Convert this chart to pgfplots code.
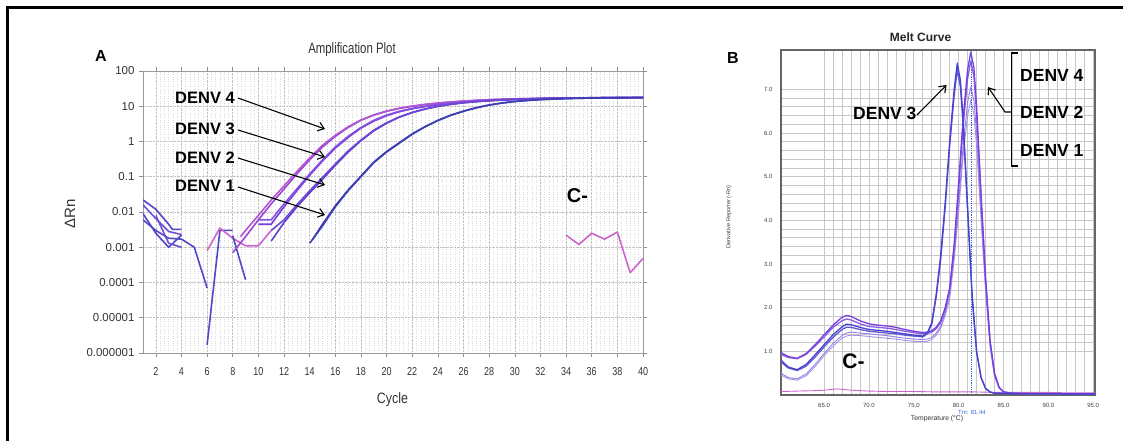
\documentclass[border=0pt]{standalone}
\usepackage{fontspec}
\setmainfont{Liberation Sans}
\usepackage{pgfplots}
\pgfplotsset{compat=1.18}
\usetikzlibrary{arrows.meta}

\definecolor{dfour}{RGB}{155,70,215}
\definecolor{dfourb}{RGB}{178,85,210}
\definecolor{dthree}{RGB}{120,62,218}
\definecolor{dthreeb}{RGB}{135,80,225}
\definecolor{dtwo}{RGB}{95,62,205}
\definecolor{dtwob}{RGB}{110,70,212}
\definecolor{done}{RGB}{70,68,190}
\definecolor{doneb}{RGB}{62,62,178}
\definecolor{noiseA}{RGB}{80,72,200}
\definecolor{noiseB}{RGB}{110,80,215}
\definecolor{cneg}{RGB}{205,100,205}
\definecolor{mA}{RGB}{118,64,222}
\definecolor{mB}{RGB}{138,92,228}
\definecolor{mC}{RGB}{72,66,205}
\definecolor{mD}{RGB}{96,88,215}
\definecolor{mE}{RGB}{150,128,230}
\definecolor{mF}{RGB}{165,145,232}
\definecolor{tmblue}{RGB}{50,110,220}

\begin{document}
\begin{tikzpicture}
\useasboundingbox (0pt,0pt) rectangle (1123pt,-441pt);

% outer frame (top and left edges)
\draw[line width=3pt] (7.5pt,-441pt) -- (7.5pt,-7.5pt) -- (1123pt,-7.5pt);

%-------------------- A: amplification plot --------------------
\begin{axis}[
  at={(143pt,-353pt)}, anchor=south west,
  scale only axis, width=500pt, height=282pt,
  xmin=1, xmax=40,
  ymode=log, log basis y=10, ymin=1e-6, ymax=100,
  xtick={2,4,...,40}, minor x tick num=5,
  ytick={1e-6,1e-5,1e-4,1e-3,1e-2,1e-1,1,10,100},
  yticklabels={0.000001,0.00001,0.0001,0.001,0.01,0.1,1,10,100},
  grid=both,
  major grid style={densely dotted, draw=black!24, line width=0.6pt},
  minor grid style={dotted, draw=black!15, line width=0.5pt},
  axis line style={draw=black!40, line width=0.8pt},
  tick style={draw=black!45, line width=0.6pt},
  tick align=outside, major tick length=4pt, minor tick length=0pt,
  /pgf/number format/assume math mode=true,
  ticklabel style={font=\fontsize{11.5}{11.5}\selectfont, text=black!80},
  xticklabel style={xscale=0.78, yshift=-7pt},
  yticklabel style={xshift=-1pt},
  clip=true,
  every axis plot/.append style={line width=1.6pt, line join=round, mark=none},
]
% early-cycle background noise
\addplot[noiseA] coordinates {(1,0.022) (2,0.012) (3,0.0045) (3.3,0.0032) (4,0.0032)};
\addplot[noiseB] coordinates {(1,0.016) (2,0.0065) (3,0.0028) (4,0.0023)};
\addplot[noiseA] coordinates {(1,0.009) (2,0.0025) (3,0.001) (4,0.0022)};
\addplot[noiseA] coordinates {(1,0.006) (2,0.003) (3,0.0018) (4,0.0017) (5,0.001) (6,0.00007)};
\addplot[noiseB] coordinates {(2,0.008) (3,0.0013) (4,0.001)};
\addplot[noiseA] coordinates {(6,0.0000017) (7,0.003) (8,0.003)};
\addplot[cneg] coordinates {(6,0.0008) (7,0.0035) (8,0.0018) (9,0.0011) (10,0.0011) (11,0.003)};
\addplot[noiseA] coordinates {(8,0.0021) (9,0.00012)};
% DENV 4
\addplot[dfour] coordinates {(8,0.0007) (9,0.002) (10,0.006) (11,0.017) (12,0.045) (13,0.12) (14,0.3) (15,0.7) (16,1.4) (17,2.5) (18,4.0) (19,5.6) (20,7.2) (21,8.7) (22,10.0) (23,11.2) (24,12.3) (25,13.2) (26,14.0) (27,14.7) (28,15.3) (29,15.8) (30,16.2) (32,16.8) (34,17.2) (36,17.4) (38,17.6) (40,17.7)};
\addplot[dfourb] coordinates {(8.6,0.002) (9,0.003) (10,0.008) (11,0.022) (12,0.055) (13,0.14) (14,0.34) (15,0.78) (16,1.5) (17,2.6) (18,4.1) (19,5.7) (20,7.3) (21,8.8) (22,10.1) (23,11.3) (24,12.3) (25,13.2) (26,14.0) (27,14.7) (28,15.3) (29,15.8) (30,16.2) (32,16.8) (34,17.2) (36,17.4) (38,17.6) (40,17.7)};
% DENV 3
\addplot[dthree] coordinates {(10,0.0045) (11,0.0045) (11.5,0.008) (12,0.014) (13,0.04) (14,0.11) (15,0.28) (16,0.65) (17,1.3) (18,2.4) (19,3.8) (20,5.4) (21,7.0) (22,8.5) (23,9.8) (24,11.0) (25,12.1) (26,13.0) (27,13.8) (28,14.6) (29,15.2) (30,15.7) (32,16.4) (34,16.9) (36,17.3) (38,17.5) (40,17.6)};
\addplot[dthreeb] coordinates {(10,0.006) (11,0.006) (12,0.017) (13,0.045) (14,0.12) (15,0.3) (16,0.7) (17,1.4) (18,2.5) (19,4.0) (20,5.6) (21,7.2) (22,8.7) (23,10.0) (24,11.2) (25,12.3) (26,13.2) (27,14.0) (28,14.7) (29,15.3) (30,15.8) (32,16.5) (34,17.0) (36,17.3) (38,17.5) (40,17.6)};
% DENV 2
\addplot[dtwo] coordinates {(11,0.0015) (12,0.005) (13,0.014) (14,0.035) (15,0.085) (16,0.21) (17,0.5) (18,1.05) (19,2.0) (20,3.3) (21,4.9) (22,6.6) (23,8.3) (24,9.9) (25,11.3) (26,12.5) (27,13.5) (28,14.3) (29,15.0) (30,15.6) (32,16.4) (34,17.0) (36,17.3) (38,17.5) (40,17.6)};
\addplot[dtwob] coordinates {(11,0.003) (12,0.006) (13,0.016) (14,0.04) (15,0.095) (16,0.23) (17,0.54) (18,1.1) (19,2.1) (20,3.4) (21,5.0) (22,6.7) (23,8.4) (24,10.0) (25,11.4) (26,12.6) (27,13.6) (28,14.4) (29,15.1) (30,15.6) (32,16.4) (34,17.0) (36,17.3) (38,17.5) (40,17.6)};
% DENV 1
\addplot[done] coordinates {(14,0.0013) (15,0.004) (16,0.014) (17,0.04) (18,0.1) (19,0.25) (20,0.5) (21,0.9) (22,1.6) (23,2.6) (24,3.9) (25,5.5) (26,7.2) (27,9.0) (28,10.8) (29,12.3) (30,13.6) (31,14.6) (32,15.4) (34,16.5) (36,17.1) (38,17.4) (40,17.6)};
\addplot[doneb] coordinates {(14.2,0.0016) (15,0.0045) (16,0.015) (17,0.042) (18,0.105) (19,0.26) (20,0.52) (21,0.93) (22,1.65) (23,2.65) (24,4.0) (25,5.6) (26,7.3) (27,9.1) (28,10.9) (29,12.4) (30,13.7) (31,14.7) (32,15.5) (34,16.5) (36,17.1) (38,17.4) (40,17.6)};
% negative control
\addplot[cneg] coordinates {(34,0.0022) (35,0.0012) (36,0.0025) (37,0.0017) (38,0.0027) (39,0.00019) (40,0.00048)};
\end{axis}

\node[font=\fontsize{16}{16}\selectfont\bfseries] at (101pt,-56pt) {A};
\node[font=\fontsize{15}{15}\selectfont, text=black!80, xscale=0.76] at (352pt,-50pt) {Amplification Plot};
\node[font=\fontsize{15}{15}\selectfont, text=black!80, xscale=0.83] at (392.5pt,-400pt) {Cycle};
\node[font=\fontsize{15}{15}\selectfont, text=black!80, rotate=90] at (70pt,-214pt) {ΔRn};

\begin{scope}[font=\fontsize{16.5}{16.5}\selectfont\bfseries]
\node[anchor=west, inner sep=0pt] at (175pt,-97.5pt) {DENV 4};
\node[anchor=west, inner sep=0pt] at (175pt,-129pt) {DENV 3};
\node[anchor=west, inner sep=0pt] at (175pt,-157.5pt) {DENV 2};
\node[anchor=west, inner sep=0pt] at (175pt,-186pt) {DENV 1};
\end{scope}
\begin{scope}[line width=1.1pt, -{Straight Barb[length=6pt,width=9pt]}]
\draw (238pt,-98pt) -- (325pt,-129pt);
\draw (238pt,-130pt) -- (325pt,-157pt);
\draw (238pt,-158pt) -- (325pt,-185pt);
\draw (238pt,-187pt) -- (325pt,-215pt);
\end{scope}
\node[font=\fontsize{20}{20}\selectfont\bfseries] at (577.5pt,-195.5pt) {C-};

%-------------------- B: melt curve --------------------
\begin{axis}[
  at={(781pt,-395pt)}, anchor=south west,
  scale only axis, width=314pt, height=345pt,
  xmin=60.2, xmax=95.2, ymin=0, ymax=7.9,
  xtick={65,70,...,95}, ytick={1,2,...,7},
  minor x tick num=4, minor y tick num=4,
  grid=both,
  major grid style={draw=black!22, line width=0.6pt},
  minor grid style={draw=black!22, line width=0.6pt},
  axis line style={draw=black!60, line width=1.3pt},
  major tick length=0pt, minor tick length=0pt,
  /pgf/number format/.cd, fixed, fixed zerofill, precision=1, assume math mode=true,
  /pgfplots/.cd,
  ticklabel style={font=\fontsize{6}{6}\selectfont, text=black!75},
  xticklabel style={yshift=-5pt},
  yticklabel style={xshift=-5pt},
  clip=true,
  every axis plot/.append style={line width=1.3pt, line join=round, mark=none},
]
% negative control
\addplot[cneg, line width=0.9pt] coordinates {(60.2,0.08) (62,0.09) (64,0.1) (65,0.11) (66,0.13) (66.5,0.14) (67,0.13) (68,0.11) (70,0.09) (72,0.08) (75,0.08) (78,0.07) (80,0.07) (82,0.07) (84,0.06) (86,0.06) (88,0.06) (90,0.06) (92,0.05) (95.2,0.05)};
% peaks near 81.4 (DENV 4, 2, 1)
\addplot[mF, line width=0.9pt] coordinates {(60.2,0.46) (61,0.37) (62,0.34) (63,0.44) (64,0.65) (65,0.9) (66,1.12) (67,1.3) (67.5,1.35) (68,1.37) (69,1.36) (70,1.34) (71,1.32) (72,1.3) (73,1.28) (74,1.25) (75,1.23) (76,1.22) (76.5,1.23) (77,1.27) (77.5,1.37) (78,1.53) (78.5,1.82) (79,2.2) (79.5,3.1) (80,4.2) (80.5,5.5) (81,6.4) (81.35,6.75) (81.7,6.45) (82,5.7) (82.5,4.0) (83,2.4) (83.5,1.1) (84,0.43) (84.5,0.16) (85,0.07) (86,0.04) (88,0.03) (90,0.03) (92,0.025) (95.2,0.02)};
\addplot[mE, line width=0.9pt] coordinates {(60.2,0.5) (61,0.4) (62,0.37) (63,0.48) (64,0.7) (65,0.95) (66,1.18) (67,1.36) (67.5,1.42) (68,1.44) (69,1.42) (70,1.4) (71,1.38) (72,1.36) (73,1.33) (74,1.3) (75,1.28) (76,1.27) (76.5,1.28) (77,1.32) (77.5,1.42) (78,1.58) (78.5,1.88) (79,2.3) (79.5,3.2) (80,4.4) (80.5,5.7) (81,6.7) (81.35,7.05) (81.7,6.75) (82,6.0) (82.5,4.2) (83,2.5) (83.5,1.15) (84,0.45) (84.5,0.17) (85,0.07) (86,0.04) (88,0.03) (90,0.03) (92,0.025) (95.2,0.02)};
\addplot[mB] coordinates {(60.2,0.93) (61,0.86) (62,0.83) (63,0.93) (64,1.12) (65,1.33) (66,1.55) (67,1.7) (67.5,1.74) (68,1.72) (69,1.63) (70,1.57) (71,1.55) (72,1.53) (73,1.5) (74,1.46) (75,1.43) (76,1.4) (76.5,1.41) (77,1.44) (77.5,1.52) (78,1.67) (78.5,1.95) (79,2.4) (79.5,3.35) (80,4.7) (80.5,6.15) (81,7.25) (81.35,7.65) (81.7,7.3) (82,6.45) (82.5,4.5) (83,2.65) (83.5,1.22) (84,0.48) (84.5,0.18) (85,0.07) (86,0.04) (88,0.03) (90,0.03) (92,0.025) (95.2,0.02)};
\addplot[mA] coordinates {(60.2,0.97) (61,0.88) (62,0.84) (63,0.95) (64,1.15) (65,1.38) (66,1.6) (67,1.78) (67.5,1.82) (68,1.8) (69,1.7) (70,1.63) (71,1.6) (72,1.58) (73,1.55) (74,1.5) (75,1.46) (76,1.43) (76.5,1.44) (77,1.47) (77.5,1.55) (78,1.7) (78.5,2.0) (79,2.45) (79.5,3.45) (80,4.85) (80.5,6.35) (81,7.45) (81.35,7.85) (81.7,7.5) (82,6.6) (82.5,4.6) (83,2.7) (83.5,1.25) (84,0.5) (84.5,0.18) (85,0.07) (86,0.04) (88,0.03) (90,0.03) (92,0.025) (95.2,0.02)};
% peaks near 79.9 (DENV 3)
\addplot[mD] coordinates {(60.2,0.76) (61,0.62) (62,0.56) (63,0.66) (64,0.87) (65,1.1) (66,1.32) (67,1.5) (67.5,1.55) (68,1.55) (69,1.5) (70,1.46) (71,1.44) (72,1.42) (73,1.4) (74,1.37) (75,1.35) (76,1.33) (76.5,1.4) (77,1.62) (77.5,2.25) (78,3.1) (78.5,4.3) (79,5.7) (79.5,6.85) (79.85,7.45) (80.2,7.05) (80.5,6.2) (81,4.2) (81.5,2.25) (82,0.98) (82.5,0.4) (83,0.15) (83.5,0.07) (84,0.04) (86,0.03) (88,0.03) (90,0.03) (92,0.025) (95.2,0.02)};
\addplot[mC] coordinates {(60.2,0.8) (61,0.64) (62,0.58) (63,0.7) (64,0.92) (65,1.15) (66,1.38) (67,1.56) (67.5,1.62) (68,1.61) (69,1.55) (70,1.5) (71,1.48) (72,1.46) (73,1.43) (74,1.4) (75,1.37) (76,1.35) (76.5,1.42) (77,1.65) (77.5,2.3) (78,3.2) (78.5,4.4) (79,5.8) (79.5,7.0) (79.85,7.6) (80.2,7.2) (80.5,6.3) (81,4.3) (81.5,2.3) (82,1.0) (82.5,0.4) (83,0.15) (83.5,0.07) (84,0.04) (86,0.03) (88,0.03) (90,0.03) (92,0.025) (95.2,0.02)};
% melting temperature marker
\addplot[tmblue, densely dotted, line width=0.9pt] coordinates {(81.44,0) (81.44,7.9)};
\end{axis}

\node[font=\fontsize{16}{16}\selectfont\bfseries] at (733pt,-58pt) {B};
\node[font=\fontsize{12}{12}\selectfont\bfseries, text=black!85] at (920.5pt,-37.5pt) {Melt Curve};
\node[font=\fontsize{5.7}{5.7}\selectfont, text=black!75, rotate=90] at (729pt,-217pt) {Derivative Reporter (-Rn)};
\node[font=\fontsize{6.8}{6.8}\selectfont, text=black!80] at (937pt,-418.5pt) {Temperature (°C)};
\node[font=\fontsize{6}{6}\selectfont, text=tmblue] at (972pt,-412pt) {Tm: 81.44};

\begin{scope}[font=\fontsize{17.5}{17.5}\selectfont\bfseries]
\node[anchor=west, inner sep=0pt] at (1020pt,-75pt) {DENV 4};
\node[anchor=west, inner sep=0pt] at (1020pt,-112pt) {DENV 2};
\node[anchor=west, inner sep=0pt] at (1020pt,-150pt) {DENV 1};
\node[anchor=west, inner sep=0pt] at (853pt,-113.5pt) {DENV 3};
\end{scope}
\draw[line width=1.3pt] (1018pt,-53pt) -- (1011.7pt,-53pt) -- (1011.7pt,-166pt) -- (1018pt,-166pt);
\draw[line width=1.1pt, -{Straight Barb[length=6pt,width=9pt]}] (1011.7pt,-112pt) -- (1005pt,-112pt) -- (988pt,-87pt);
\draw[line width=1.1pt, -{Straight Barb[length=6pt,width=9pt]}] (917pt,-115pt) -- (946.5pt,-85pt);
\node[font=\fontsize{21}{21}\selectfont\bfseries] at (853.5pt,-361pt) {C-};
\end{tikzpicture}
\end{document}
